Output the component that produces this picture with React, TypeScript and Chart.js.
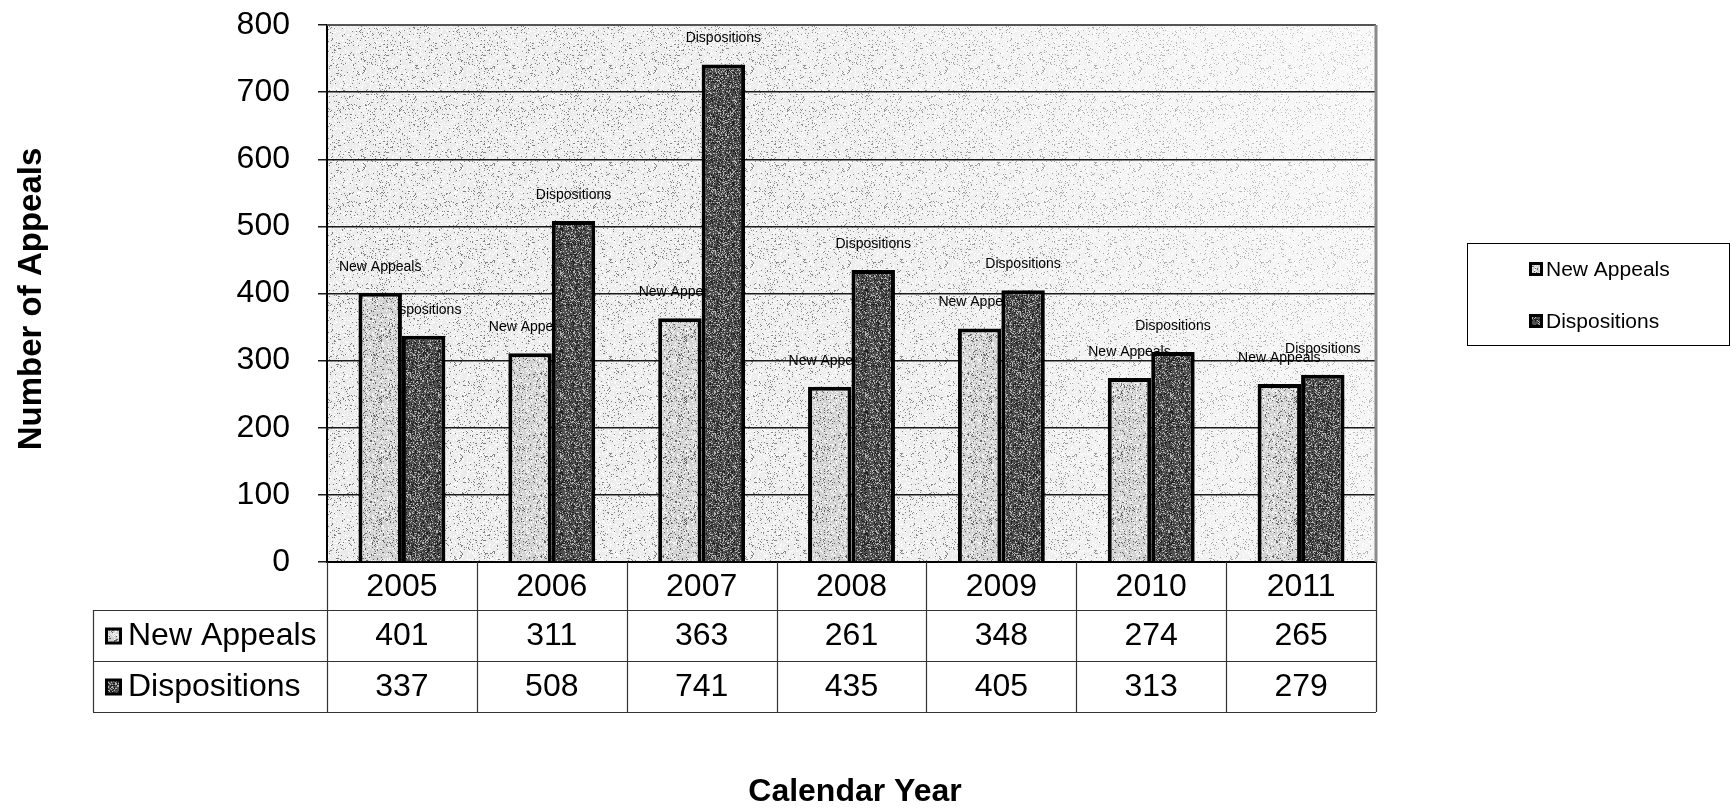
import React, { useEffect, useRef } from "react";
import { Chart, registerables } from "chart.js";

Chart.register(...registerables);

// ---- data ----
const years = ["2005", "2006", "2007", "2008", "2009", "2010", "2011"];
const newAppeals = [401, 311, 363, 261, 348, 274, 265];
const dispositions = [337, 508, 741, 435, 405, 313, 279];
const seriesNames = ["New Appeals", "Dispositions"];
const yMin = 0;
const yMax = 800;
const yStep = 100;
const yTitle = "Number of Appeals";
const xTitle = "Calendar Year";

const FONT = '"Liberation Sans", Arial, Helvetica, sans-serif';

function hash(x: number, y: number, s: number) {
  let h = (Math.imul(x, 374761393) + Math.imul(y, 668265263) + Math.imul(s, 1013904223)) | 0;
  h = Math.imul(h ^ (h >>> 13), 1274126177);
  h = h ^ (h >>> 16);
  return (h >>> 0) / 4294967295;
}

function stipple(
  ctx: CanvasRenderingContext2D,
  size: number,
  base: string,
  dark: string,
  darkFrac: number,
  light: string,
  lightFrac: number,
  seed: number
) {
  const c = document.createElement("canvas");
  c.width = size;
  c.height = size;
  const g = c.getContext("2d")!;
  g.fillStyle = base;
  g.fillRect(0, 0, size, size);
  for (let y = 0; y < size; y++) {
    for (let x = 0; x < size; x++) {
      const r = hash(x, y, seed);
      if (r < darkFrac) {
        g.fillStyle = dark;
        g.fillRect(x, y, 1, 1);
      } else if (r > 1 - lightFrac) {
        g.fillStyle = light;
        g.fillRect(x, y, 1, 1);
      }
    }
  }
  return ctx.createPattern(c, "repeat")!;
}

export default function App() {
  const canvasRef = useRef<HTMLCanvasElement | null>(null);

  useEffect(() => {
    const canvas = canvasRef.current!;
    const ctx0 = canvas.getContext("2d")!;
    const bgPattern = stipple(ctx0, 97, "#ebebeb", "#7a7a7a", 0.07, "#ffffff", 0.2, 3);
    const naPattern = stipple(ctx0, 61, "#d2d2d2", "#666666", 0.1, "#f6f6f6", 0.22, 7);
    const dpPattern = stipple(ctx0, 61, "#505050", "#1e1e1e", 0.22, "#b4b4b4", 0.2, 11);
    const fills = [naPattern, dpPattern];

    const marker = (ctx: CanvasRenderingContext2D, x: number, y: number, s: number, i: number) => {
      ctx.fillStyle = "#000";
      ctx.fillRect(x, y, s, s);
      ctx.fillStyle = fills[i];
      const b = Math.max(2, Math.round(s * 0.2));
      ctx.fillRect(x + b, y + b, s - 2 * b, s - 2 * b);
    };

    const decor = {
      id: "decor",
      beforeDraw(chart: any) {
        const { ctx, chartArea: a } = chart;
        ctx.save();
        ctx.fillStyle = "#ffffff";
        ctx.fillRect(0, 0, chart.width, chart.height);
        ctx.fillStyle = bgPattern;
        ctx.fillRect(a.left, a.top, a.right - a.left, a.bottom - a.top);
        const gr = ctx.createLinearGradient(a.left, a.bottom, a.right, a.top);
        gr.addColorStop(0, "rgba(255,255,255,0)");
        gr.addColorStop(0.5, "rgba(255,255,255,0.12)");
        gr.addColorStop(1, "rgba(255,255,255,0.65)");
        ctx.fillStyle = gr;
        ctx.fillRect(a.left, a.top, a.right - a.left, a.bottom - a.top);
        ctx.restore();
      },
      beforeDatasetsDraw(chart: any) {
        const { ctx } = chart;
        ctx.save();
        ctx.font = `14px ${FONT}`;
        ctx.fillStyle = "#000";
        ctx.textAlign = "center";
        ctx.textBaseline = "middle";
        [0, 1].forEach((di) => {
          const meta = chart.getDatasetMeta(di);
          meta.data.forEach((bar: any) => {
            ctx.fillText(seriesNames[di], bar.x, bar.y - 26);
          });
        });
        ctx.restore();
      },
      afterDraw(chart: any) {
        const { ctx, chartArea: a } = chart;
        const xs = chart.scales.x;
        const n = years.length;
        const cw = (a.right - a.left) / n;
        ctx.save();
        // plot borders top/right
        ctx.strokeStyle = "#555";
        ctx.lineWidth = 2;
        ctx.beginPath();
        ctx.moveTo(a.left, a.top);
        ctx.lineTo(a.right, a.top);
        ctx.stroke();
        ctx.strokeStyle = "#8a8a8a";
        ctx.lineWidth = 3;
        ctx.beginPath();
        ctx.moveTo(a.right, a.top);
        ctx.lineTo(a.right, a.bottom);
        ctx.stroke();

        // data table
        const tLeft = 93;
        const r0 = a.bottom;
        const r1 = 610;
        const r2 = 661;
        const r3 = 712;
        ctx.strokeStyle = "#333";
        ctx.lineWidth = 1.2;
        ctx.beginPath();
        for (let k = 0; k <= n; k++) {
          const x = Math.round(a.left + k * cw) + 0.5;
          ctx.moveTo(x, r0);
          ctx.lineTo(x, r3);
        }
        [r1, r2, r3].forEach((y) => {
          ctx.moveTo(tLeft, y + 0.5);
          ctx.lineTo(a.right, y + 0.5);
        });
        ctx.moveTo(tLeft + 0.5, r1);
        ctx.lineTo(tLeft + 0.5, r3);
        ctx.stroke();

        ctx.fillStyle = "#000";
        ctx.font = `32px ${FONT}`;
        ctx.textAlign = "center";
        ctx.textBaseline = "middle";
        years.forEach((yr, i) => {
          const cx = xs.getPixelForValue(i);
          ctx.fillText(yr, cx, (r0 + r1) / 2 + 1);
          ctx.fillText(String(newAppeals[i]), cx, (r1 + r2) / 2 + 1);
          ctx.fillText(String(dispositions[i]), cx, (r2 + r3) / 2 + 1);
        });
        ctx.textAlign = "left";
        [0, 1].forEach((i) => {
          const cy = i === 0 ? (r1 + r2) / 2 : (r2 + r3) / 2;
          marker(ctx, 105, cy - 8, 17, i);
          ctx.fillStyle = "#000";
          ctx.fillText(seriesNames[i], 128, cy + 1);
        });

        // legend
        ctx.strokeStyle = "#000";
        ctx.lineWidth = 1;
        ctx.strokeRect(1467.5, 243.5, 262, 102);
        ctx.font = `21px ${FONT}`;
        ctx.textBaseline = "middle";
        [269, 321].forEach((cy, i) => {
          marker(ctx, 1529, cy - 7, 14, i);
          ctx.fillStyle = "#000";
          ctx.fillText(seriesNames[i], 1546, cy + 1);
        });

        // titles
        ctx.font = `bold 32px ${FONT}`;
        ctx.textAlign = "center";
        ctx.fillText(xTitle, 855, 792);
        ctx.font = `bold 33px ${FONT}`;
        ctx.translate(32, 299);
        ctx.rotate(-Math.PI / 2);
        ctx.fillText(yTitle, 0, 0);
        ctx.restore();
      },
    };

    const chart = new Chart(canvas, {
      type: "bar",
      data: {
        labels: years,
        datasets: [
          {
            label: seriesNames[0],
            data: newAppeals,
            backgroundColor: naPattern as any,
            borderColor: "#000",
            borderWidth: 4,
            barPercentage: 1,
            categoryPercentage: 0.58,
          },
          {
            label: seriesNames[1],
            data: dispositions,
            backgroundColor: dpPattern as any,
            borderColor: "#000",
            borderWidth: 4,
            barPercentage: 1,
            categoryPercentage: 0.58,
          },
        ],
      },
      options: {
        responsive: true,
        maintainAspectRatio: false,
        animation: false,
        devicePixelRatio: 1,
        layout: { padding: { top: 25, right: 357, left: 0, bottom: 0 } },
        plugins: {
          legend: { display: false },
          tooltip: { enabled: false },
          title: { display: false },
        },
        scales: {
          x: {
            type: "category",
            grid: { display: false },
            ticks: { display: false },
            border: { display: true, color: "#000", width: 2 },
            afterFit: (s: any) => {
              s.height = 247;
              s.paddingLeft = 0;
              s.paddingRight = 0;
            },
          },
          y: {
            min: yMin,
            max: yMax,
            ticks: {
              stepSize: yStep,
              color: "#000",
              font: { size: 32, family: FONT },
              padding: 28,
            },
            grid: { color: "#1a1a1a", lineWidth: 1.5, tickLength: 9, drawTicks: true },
            border: { display: true, color: "#000", width: 2 },
            afterFit: (s: any) => {
              s.width = 327;
              s.paddingTop = 0;
              s.paddingBottom = 0;
            },
          },
        },
      },
      plugins: [decor],
    });

    return () => chart.destroy();
  }, []);

  return (
    <div style={{ position: "fixed", left: 0, top: 0, width: 1733, height: 809, background: "#fff" }}>
      <canvas ref={canvasRef} />
    </div>
  );
}
